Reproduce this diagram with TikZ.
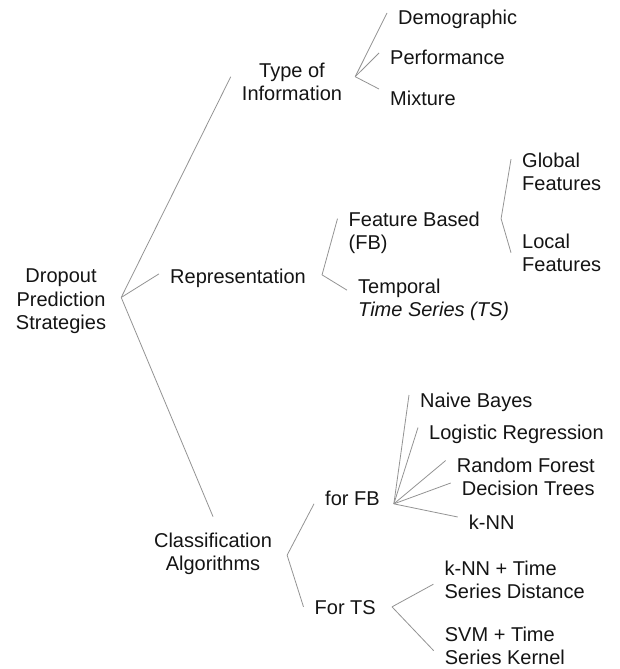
\documentclass[tikz,border=0pt]{standalone}
\usepackage{fontspec}
\setmainfont{Liberation Sans}
\usepackage{tikz}
\usetikzlibrary{calc,positioning}
\definecolor{inkgray}{HTML}{141414}
\definecolor{linegray}{HTML}{939393}

\begin{document}
\begin{tikzpicture}[x=1pt, y=-1pt, lbl/.style={font=\fontsize{20}{23.3}\selectfont, text=inkgray, inner xsep=11pt, inner ysep=0pt}, lnk/.style={draw=linegray, line width=0.8pt}]
\tikzstyle{leaf}=[lbl, anchor=base west, text height=24pt, text depth=0pt]
\tikzstyle{mid}=[lbl, anchor=base west, text height=14.3pt, text depth=0pt]
\tikzstyle{blk}=[lbl, align=left, anchor=north west]
\tikzstyle{ctr}=[lbl, align=center, anchor=north]
\useasboundingbox (0,0) rectangle (619,669);
\node[ctr] (root) at (61,269) {Dropout\\Prediction\\Strategies};
\node[ctr] (ty) at (292,62.5) {Type of\\Information};
\node[mid] (rep) at (159,283) {Representation};
\node[ctr] (cls) at (213,532.6) {Classification\\Algorithms};
\node[leaf] (dem) at (387,25) {Demographic};
\node[leaf] (perf) at (379,65) {Performance};
\node[leaf] (mix) at (379,105) {Mixture};
\node[blk] (fb) at (337.5,212) {Feature Based\\(FB)};
\node[blk] (tmp) at (347,279) {Temporal\\\textit{Time Series (TS)}};
\node[blk] (glob) at (511,153) {Global\\Features};
\node[blk] (loc) at (511,233.5) {Local\\Features};
\node[mid] (ffb) at (314,505) {for FB};
\node[mid] (fts) at (303.5,614) {For TS};
\node[leaf] (nb) at (409,407) {Naive Bayes};
\node[leaf] (lr) at (418,439.5) {Logistic Regression};
\node[leaf] (rf) at (445.7,472.5) {Random Forest};
\node[leaf] (dt) at (450.7,495) {Decision Trees};
\node[leaf] (knn) at (457.7,529) {k-NN};
\node[blk] (kt) at (433.4,561) {k-NN + Time\\Series Distance};
\node[blk] (st) at (433.7,626.5) {SVM + Time\\Series Kernel};
\coordinate (rootfork) at ([xshift=4pt,yshift=4pt]root.east);
\coordinate (tyfork) at ([xshift=2pt,yshift=5pt]ty.east);
\coordinate (repfork) at ([xshift=5pt,yshift=1pt]rep.east);
\coordinate (fbfork) at ([xshift=10pt,yshift=14.5pt]fb.east);
\coordinate (clsfork) at ([xshift=4pt,yshift=-1.4pt]cls.east);
\coordinate (ffbfork) at ([xshift=3pt,yshift=-6pt]ffb.east);
\coordinate (ftsfork) at ([xshift=5pt]fts.east);
\draw[lnk] (rootfork) -- ([yshift=5pt]ty.west);
\draw[lnk] (rootfork) -- ([yshift=2pt]rep.west);
\draw[lnk] (rootfork) -- ([yshift=16pt]cls.north);
\draw[lnk] (tyfork) -- (dem.west);
\draw[lnk] (tyfork) -- (perf.west);
\draw[lnk] (tyfork) -- ([yshift=4pt]mix.west);
\draw[lnk] (repfork) -- ([yshift=14.5pt]fb.west);
\draw[lnk] (repfork) -- ([yshift=10pt]tmp.west);
\draw[lnk] (fbfork) -- ([yshift=13pt]glob.west);
\draw[lnk] (fbfork) -- (loc.west);
\draw[lnk] (clsfork) -- ([yshift=-6pt]ffb.west);
\draw[lnk] (clsfork) -- (fts.west);
\foreach \j in {nb,lr,rf,dt,knn}{\draw[lnk] (ffbfork) -- (\j.west);}
\draw[lnk] (ftsfork) -- ([yshift=-4pt]kt.west);
\draw[lnk] (ftsfork) -- ([yshift=-5pt]st.west);
\end{tikzpicture}
\end{document}
